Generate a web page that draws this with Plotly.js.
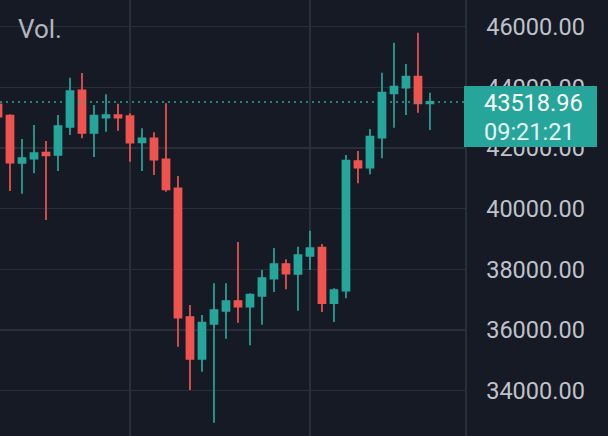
<!DOCTYPE html>
<html>
<head>
<meta charset="utf-8">
<script src="https://cdn.plot.ly/plotly-3.0.1.min.js"></script>
<style>
  html, body { margin: 0; padding: 0; background: #161a25; }
  #chart { width: 608px; height: 436px; }
</style>
</head>
<body>
<div id="chart"></div>
<script>
// Candle index (time slots)
var idx = [0,1,2,3,4,5,6,7,8,9,10,11,12,13,14,15,16,17,18,19,20,21,22,23,24,25,26,27,28,29,30,31,32,33,34,35,36];
var openVals  = [43441,43066,41506,41648,41846,41770,42693,43903,42495,43000,43089,43056,42189,42321,41628,40672,36429,35044,36198,36627,36956,36768,37121,37692,38176,37847,38440,38714,36881,37296,41572,41351,42340,43804,43989,44351,43474];
var highVals  = [43520,43112,42297,42759,42232,43089,44319,44473,43418,43771,43461,43145,42650,42518,43474,41078,36824,36495,37540,37540,38902,37210,37978,38704,38331,38747,39274,38836,37375,41770,41902,42627,44483,45472,44770,45802,43824];
var lowVals   = [42950,40583,40494,41167,39627,41242,42429,42321,41704,42538,42571,41549,41242,41111,40560,35450,34022,34625,32944,35713,36241,35496,36175,37253,37342,36637,37978,36594,36264,37045,40837,41134,41661,42670,43089,43165,42594];
var closeVals = [43033,41516,41671,41836,41760,42726,43880,42495,43066,43089,43000,42175,42321,41615,40639,36406,35044,36241,36660,36956,36768,37164,37715,38176,37856,38473,38704,36881,37319,41582,41351,42373,43824,44022,44351,43474,43518.96];
var yTicks = [34000,36000,38000,40000,42000,44000,46000];
var yTickText = ["34000.00","36000.00","38000.00","40000.00","42000.00","44000.00","46000.00"];
var xGridAt = [11, 26];
var lastPrice = 43518.96;
var lastPriceText = "43518.96";
var timerText = "09:21:21";
var volLabel = "Vol.";

var UP = '#26a69a', DOWN = '#ef5350';

var trace = {
  type: 'candlestick',
  x: idx, open: openVals, high: highVals, low: lowVals, close: closeVals,
  increasing: { line: { color: UP, width: 1.7 }, fillcolor: UP },
  decreasing: { line: { color: DOWN, width: 1.7 }, fillcolor: DOWN },
  whiskerwidth: 0,
  hoverinfo: 'skip'
};

var layout = {
  width: 608, height: 436,
  margin: { l: 0, r: 143, t: 0, b: 0, pad: 0 },
  paper_bgcolor: '#161a25',
  plot_bgcolor: '#161a25',
  showlegend: false,
  hovermode: false,
  boxgap: 0.16,
  font: { family: 'Roboto, "Noto Sans", sans-serif', color: '#bfc2c9' },
  xaxis: {
    range: [0.167, 38.92],
    rangeslider: { visible: false },
    showticklabels: false,
    tickmode: 'array', tickvals: xGridAt,
    showgrid: true, gridcolor: '#2a2e39', gridwidth: 1.5,
    zeroline: false, showline: false, ticks: ''
  },
  yaxis: {
    side: 'right',
    range: [32505, 46880],
    tickmode: 'array', tickvals: yTicks, ticktext: yTickText,
    tickfont: { size: 23.5, color: '#bfc2c9', family: 'Roboto, sans-serif' },
    ticks: '', ticklabelstandoff: 15,
    showgrid: true, gridcolor: '#2a2e39', gridwidth: 1.5,
    zeroline: false,
    showline: true, linecolor: '#2a2e39', linewidth: 1.5
  },
  shapes: [
    {
      type: 'line', xref: 'paper', yref: 'y', x0: 0, x1: 1, y0: lastPrice, y1: lastPrice,
      line: { color: UP, width: 1.5, dash: '2px,4px' }, layer: 'above'
    },
    {
      type: 'rect', xref: 'paper', yref: 'y',
      xsizemode: 'pixel', xanchor: 1, x0: -1, x1: 132,
      ysizemode: 'pixel', yanchor: lastPrice, y0: -45, y1: 16,
      fillcolor: UP, line: { width: 0 }, layer: 'above'
    }
  ],
  annotations: [
    {
      xref: 'paper', yref: 'y', x: 1, y: lastPrice, xshift: 17, yshift: -1,
      xanchor: 'left', yanchor: 'middle', showarrow: false,
      text: lastPriceText, font: { size: 23.5, color: '#ffffff', family: 'Roboto, sans-serif' }
    },
    {
      xref: 'paper', yref: 'y', x: 1, y: lastPrice, xshift: 17, yshift: -30,
      xanchor: 'left', yanchor: 'middle', showarrow: false,
      text: timerText, font: { size: 23.5, color: '#e8f6f4', family: 'Roboto, sans-serif' }
    },
    {
      xref: 'paper', yref: 'paper', x: 0, y: 1, xshift: 16, yshift: -29,
      xanchor: 'left', yanchor: 'middle', showarrow: false,
      text: volLabel, font: { size: 26, color: '#b2b5be', family: 'Roboto, sans-serif' }
    }
  ]
};

Plotly.newPlot('chart', [trace], layout, { displayModeBar: false, staticPlot: true });
</script>
</body>
</html>
